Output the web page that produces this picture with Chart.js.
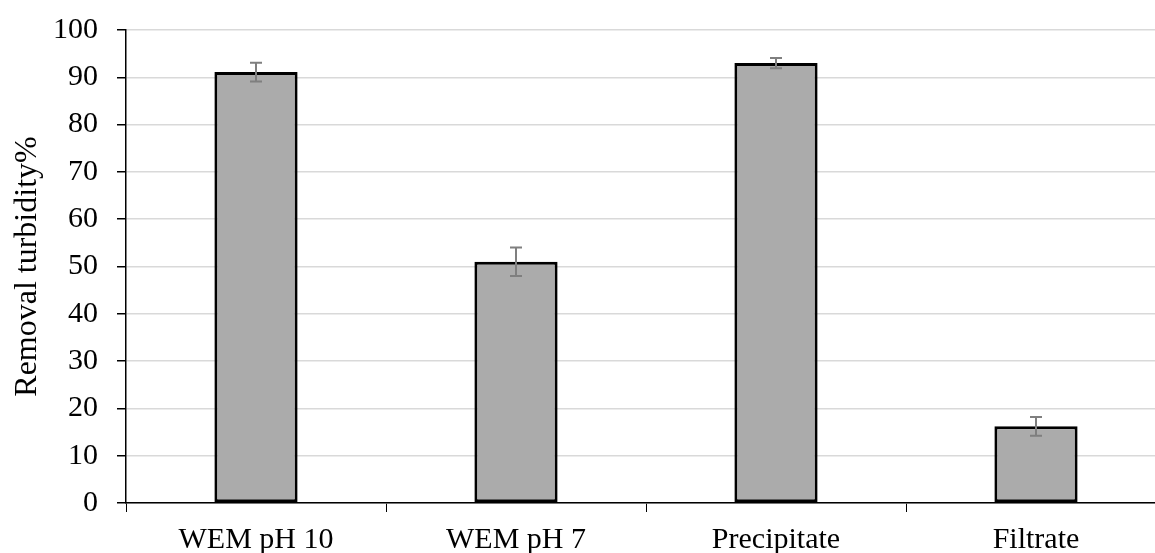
<!DOCTYPE html>
<html>
<head>
<meta charset="utf-8">
<script src="https://cdn.jsdelivr.net/npm/chart.js@4.4.1/dist/chart.umd.min.js"></script>
<style>
  html, body { margin: 0; padding: 0; background: #fff; overflow: hidden; }
  #wrap { width: 1166px; height: 553px; }
</style>
</head>
<body>
<div id="wrap"><canvas id="grafico"></canvas></div>
<script>
const categorias = ['WEM pH 10', 'WEM pH 7', 'Precipitate', 'Filtrate']
const remocion = [91.1, 51.0, 93.0, 16.2]
const errores = [2.0, 3.0, 1.1, 2.0]
const ticksY = [0, 10, 20, 30, 40, 50, 60, 70, 80, 90, 100]

const fuente = "'Liberation Serif', 'Times New Roman', serif"

// barras de error dibujadas con las escalas del grafico
const barrasError = {
    id: 'barrasError',
    afterDatasetsDraw(chart) {
        const ctx = chart.ctx
        const yScale = chart.scales.y
        const meta = chart.getDatasetMeta(0)
        ctx.save()
        ctx.strokeStyle = '#7f7f7f'
        ctx.lineWidth = 2
        meta.data.forEach((bar, i) => {
            const x = bar.x
            const arriba = yScale.getPixelForValue(remocion[i] + errores[i])
            const abajo = yScale.getPixelForValue(remocion[i] - errores[i])
            ctx.beginPath()
            ctx.moveTo(x, arriba)
            ctx.lineTo(x, abajo)
            ctx.moveTo(x - 6, arriba)
            ctx.lineTo(x + 6, arriba)
            ctx.moveTo(x - 6, abajo)
            ctx.lineTo(x + 6, abajo)
            ctx.stroke()
        })
        ctx.restore()
    }
}

new Chart('grafico', {
    type: 'bar',
    data: {
        labels: categorias,
        datasets: [{
            data: remocion,
            backgroundColor: '#ababab',
            borderColor: '#000',
            borderWidth: 3,
            borderSkipped: false,
            barPercentage: 0.32,
            categoryPercentage: 1
        }]
    },
    options: {
        responsive: true,
        maintainAspectRatio: false,
        animation: false,
        layout: { padding: { top: 30, left: 8, right: 0, bottom: 0 } },
        plugins: {
            legend: { display: false },
            tooltip: { enabled: false }
        },
        scales: {
            x: {
                offset: true,
                afterFit: (axis) => { axis.height = 50 },
                grid: {
                    offset: true,
                    drawOnChartArea: false,
                    color: '#000',
                    tickLength: 9
                },
                border: { color: '#000', width: 1.5 },
                ticks: {
                    color: '#000',
                    padding: 10,
                    font: { family: fuente, size: 30 }
                }
            },
            y: {
                min: 0,
                max: 100,
                afterBuildTicks: (axis) => { axis.ticks = ticksY.map((v) => ({ value: v })) },
                afterFit: (axis) => {
                    axis.width = 118
                    axis.paddingTop = 0
                    axis.paddingBottom = 0
                },
                grid: {
                    color: '#d9d9d9',
                    lineWidth: 1.5,
                    tickColor: '#000',
                    tickLength: 9
                },
                border: { color: '#000', width: 1.5 },
                ticks: {
                    color: '#000',
                    padding: 19,
                    font: { family: fuente, size: 30 }
                },
                title: {
                    display: true,
                    text: 'Removal turbidity%',
                    color: '#000',
                    padding: { top: 0, bottom: 9 },
                    font: { family: fuente, size: 32 }
                }
            }
        }
    },
    plugins: [barrasError]
})
</script>
</body>
</html>
